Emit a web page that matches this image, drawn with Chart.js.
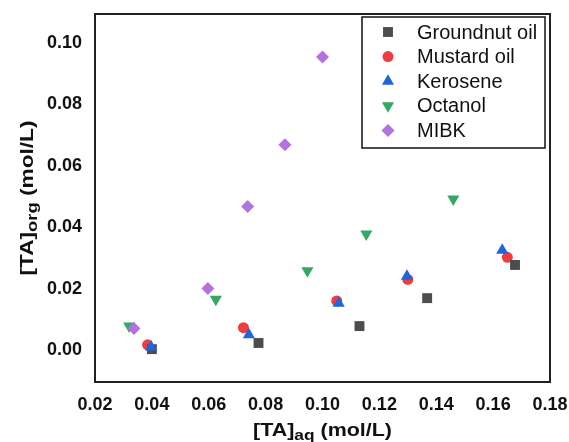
<!DOCTYPE html>
<html>
<head>
<meta charset="utf-8">
<script src="https://cdn.jsdelivr.net/npm/chart.js@4/dist/chart.umd.min.js"></script>
<style>
html,body{margin:0;padding:0;background:#fff;}
canvas{display:block;}
</style>
</head>
<body>
<canvas id="c" width="569" height="442"></canvas>
<script>
const seriesNames = ["Groundnut oil", "Mustard oil", "Kerosene", "Octanol", "MIBK"];
const groundnutX = [0.0400, 0.0775, 0.1130, 0.1368, 0.1677];
const groundnutY = [0.0003, 0.0023, 0.0078, 0.0169, 0.0277];
const mustardX = [0.0385, 0.0722, 0.1050, 0.1300, 0.1650];
const mustardY = [0.0017, 0.0073, 0.0160, 0.0230, 0.0302];
const keroseneX = [0.0397, 0.0741, 0.1057, 0.1297, 0.1632];
const keroseneY = [0.0010, 0.0050, 0.0152, 0.0240, 0.0325];
const octanolX = [0.0320, 0.0625, 0.0947, 0.1154, 0.1460];
const octanolY = [0.0078, 0.0165, 0.0258, 0.0378, 0.0492];
const mibkX = [0.0337, 0.0597, 0.0737, 0.0868, 0.1000];
const mibkY = [0.0070, 0.0200, 0.0467, 0.0668, 0.0954];
const xTicks = [0.02, 0.04, 0.06, 0.08, 0.10, 0.12, 0.14, 0.16, 0.18];
const yTicks = [0.00, 0.02, 0.04, 0.06, 0.08, 0.10];
const xTickLabels = ["0.02","0.04","0.06","0.08","0.10","0.12","0.14","0.16","0.18"];
const yTickLabels = ["0.00","0.02","0.04","0.06","0.08","0.10"];

const colors = ["#4d4d4d", "#f03c3c", "#1f66dc", "#35a866", "#b273e0"];
const styles = ["rect", "circle", "triangle", "triangle", "rectRot"];
const rotations = [0, 0, 0, 180, 0];
const radii = [7, 5.5, 7, 7, 6.5];
const orders = [4, 5, 3, 2, 1];
const xs = [groundnutX, mustardX, keroseneX, octanolX, mibkX];
const ys = [groundnutY, mustardY, keroseneY, octanolY, mibkY];

const datasets = seriesNames.map((n, i) => ({
  label: n,
  data: xs[i].map((x, j) => ({x: x, y: ys[i][j]})),
  pointStyle: styles[i],
  rotation: rotations[i],
  pointRadius: radii[i],
  pointHoverRadius: radii[i],
  backgroundColor: colors[i],
  borderColor: colors[i],
  borderWidth: 0,
  order: orders[i],
  showLine: false
}));

const FONT = "'Liberation Sans', Arial, sans-serif";

const decor = {
  id: 'decor',
  afterDatasetsDraw(chart) {
    const ctx = chart.ctx;
    const a = chart.chartArea;
    ctx.save();
    // frame
    ctx.strokeStyle = '#222';
    ctx.lineWidth = 2;
    ctx.strokeRect(a.left, a.top, a.right - a.left, a.bottom - a.top);
    // legend box
    const lx = 362, ly = 17, lw = 183, lh = 131;
    ctx.fillStyle = '#fff';
    ctx.fillRect(lx, ly, lw, lh);
    ctx.strokeStyle = '#111';
    ctx.lineWidth = 1.5;
    ctx.strokeRect(lx, ly, lw, lh);
    ctx.font = "20px " + FONT;
    ctx.textBaseline = 'middle';
    ctx.textAlign = 'left';
    seriesNames.forEach((n, i) => {
      const y = 32 + i * 24.6;
      ctx.fillStyle = colors[i];
      ctx.strokeStyle = colors[i];
      Chart.helpers.drawPoint(ctx, {pointStyle: styles[i], rotation: rotations[i], radius: radii[i], borderWidth: 0}, 388, y);
      ctx.fillStyle = '#111';
      ctx.fillText(n, 417, y + 1);
    });
    // axis titles with subscripts
    function drawTitle(parts, cx, cy, rot, target) {
      ctx.save();
      ctx.translate(cx, cy);
      ctx.rotate(rot);
      ctx.fillStyle = '#111';
      ctx.textBaseline = 'alphabetic';
      ctx.textAlign = 'left';
      let total = 0;
      parts.forEach(p => { ctx.font = "bold " + p.size + "px " + FONT; total += ctx.measureText(p.t).width; });
      const sx = target / total;
      ctx.scale(sx, 1);
      let x = -total / 2;
      parts.forEach(p => {
        ctx.font = "bold " + p.size + "px " + FONT;
        ctx.fillText(p.t, x, p.dy);
        x += ctx.measureText(p.t).width;
      });
      ctx.restore();
    }
    drawTitle([{t: "[TA]", size: 18.5, dy: 0}, {t: "aq", size: 15, dy: 4}, {t: " (mol/L)", size: 18.5, dy: 0}], 322.5, 436, 0, 139);
    drawTitle([{t: "[TA]", size: 18.5, dy: 0}, {t: "org", size: 15, dy: 4}, {t: " (mol/L)", size: 18.5, dy: 0}], 33, 198, -Math.PI / 2, 155);
    ctx.restore();
  }
};

new Chart(document.getElementById('c'), {
  type: 'scatter',
  data: {datasets: datasets},
  options: {
    responsive: false,
    animation: false,
    devicePixelRatio: 1,
    layout: {padding: {top: 14, right: 19, left: 0, bottom: 0}},
    plugins: {legend: {display: false}, tooltip: {enabled: false}},
    scales: {
      x: {
        type: 'linear', min: 0.02, max: 0.18,
        afterBuildTicks: s => { s.ticks = xTicks.map(v => ({value: v})); },
        afterFit: s => { s.height = 60; s.paddingLeft = 0; s.paddingRight = 0; },
        grid: {display: false, drawTicks: false},
        border: {display: false},
        ticks: {
          padding: 12, color: '#111', maxRotation: 0, autoSkip: false,
          font: {family: FONT, size: 18, weight: 'bold'},
          callback: (v, i) => xTickLabels[i]
        }
      },
      y: {
        type: 'linear', min: -0.0104, max: 0.1094,
        afterBuildTicks: s => { s.ticks = yTicks.map(v => ({value: v})); },
        afterFit: s => { s.width = 95; s.paddingTop = 0; s.paddingBottom = 0; },
        grid: {display: false, drawTicks: false},
        border: {display: false},
        ticks: {
          padding: 13, color: '#111', autoSkip: false,
          font: {family: FONT, size: 18, weight: 'bold'},
          callback: (v, i) => yTickLabels[i]
        }
      }
    }
  },
  plugins: [decor]
});
</script>
</body>
</html>
